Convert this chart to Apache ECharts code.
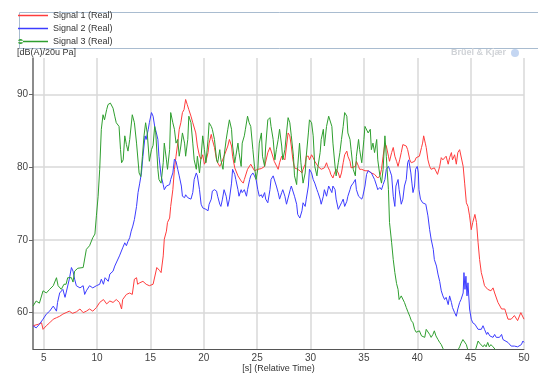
<!DOCTYPE html>
<html>
<head>
<meta charset="utf-8">
<script src="https://cdn.jsdelivr.net/npm/echarts@6/dist/echarts.min.js"></script>
<style>
  html, body { margin: 0; padding: 0; background: #fff; }
  #chart { width: 538px; height: 374px; }
</style>
</head>
<body>
<div id="chart"></div>
<script>
const seriesNames = ['Signal 1 (Real)', 'Signal 2 (Real)', 'Signal 3 (Real)']
const xTicks = [5, 10, 15, 20, 25, 30, 35, 40, 45, 50]
const yTicks = [60, 70, 80, 90]

// Signal 1 (red)
const sig1Time = [4.0, 4.5, 4.8, 4.94, 5.25, 5.56, 5.9, 6.2, 6.5, 6.8, 7.1, 7.4, 7.7, 8.06, 8.4, 8.7, 9.0, 9.3, 9.6, 9.94,
  10.25, 10.6, 10.9, 11.2, 11.5, 11.8, 12.1, 12.3, 12.4, 12.75, 13.06, 13.3, 13.5, 13.7, 13.8, 14.0, 14.3, 14.6, 14.9, 15.25,
  15.4, 15.6, 15.7, 15.85, 16.0, 16.2, 16.3, 16.5, 16.6, 16.8, 16.9, 17.1, 17.25, 17.4, 17.56, 17.7, 17.85, 18.0, 18.15, 18.3,
  18.45, 18.6, 18.8, 18.97, 19.1, 19.25, 19.4, 19.6, 19.75, 19.9, 20.06, 20.2, 20.4, 20.5, 20.7, 20.8, 21.0, 21.2, 21.3, 21.5,
  21.6, 21.9, 22.25, 22.4, 22.6, 22.7, 22.9, 23.2, 23.5, 23.7, 23.8, 24.1, 24.4, 24.75, 25.06, 25.4, 25.7, 26.0, 26.2, 26.4,
  26.6, 26.97, 27.1, 27.3, 27.6, 27.75, 27.9, 28.06, 28.2, 28.35, 28.5, 28.8, 29.0, 29.2, 29.3, 29.5, 29.6, 29.8, 29.9, 30.1,
  30.25, 30.4, 30.5, 30.7, 31.0, 31.3, 31.5, 31.6, 31.8, 31.9, 32.1, 32.2, 32.4, 32.6, 32.75, 32.9, 33.06, 33.2, 33.4, 33.5,
  33.7, 33.8, 34.2, 34.3, 34.5, 34.6, 34.8, 35.1, 35.4, 35.7, 36.0, 36.3, 36.5, 36.65, 36.8, 36.97, 37.1, 37.3, 37.4, 37.6,
  37.75, 37.9, 38.06, 38.2, 38.35, 38.5, 38.65, 38.8, 38.97, 39.1, 39.3, 39.44, 39.6, 39.75, 39.9, 40.06, 40.2, 40.4, 40.5, 40.6,
  40.75, 40.84, 41.0, 41.16, 41.3, 41.47, 41.6, 41.75, 41.9, 42.1, 42.25, 42.4, 42.56, 42.7, 42.9, 43.03, 43.2, 43.3, 43.5, 43.66,
  43.8, 43.97, 44.1, 44.3, 44.44, 44.6, 44.75, 44.9, 45.06, 45.2, 45.4, 45.55, 45.7, 45.84, 46.0, 46.16, 46.3, 46.6, 46.9, 47.1,
  47.25, 47.56, 47.9, 48.2, 48.5, 48.8, 49.1, 49.4, 49.7, 50.0]
const sig1Level = [58.2, 58.4, 58.6, 57.7, 58.2, 58.6, 59.1, 59.3, 59.5, 59.8, 60.0, 60.2, 59.9, 60.1, 60.5, 60.0, 60.2, 60.5, 60.2, 60.7,
  61.4, 61.8, 61.2, 61.6, 61.4, 61.8, 61.4, 60.5, 61.8, 62.5, 62.7, 62.5, 64.6, 64.8, 63.9, 64.1, 64.3, 63.9, 63.7, 63.9,
  63.7, 66.2, 66.4, 65.8, 65.5, 67.8, 70.1, 71.2, 72.4, 73.0, 74.6, 76.9, 79.7, 81.5, 83.3, 85.2, 86.1, 87.5, 87.9, 89.3,
  88.6, 87.9, 87.0, 86.1, 86.3, 84.7, 82.9, 81.5, 81.1, 81.7, 80.4, 80.8, 82.0, 83.3, 84.5, 83.8, 82.7, 81.0, 80.6, 80.1,
  80.4, 81.5, 82.9, 83.8, 82.9, 81.5, 79.9, 78.8, 78.1, 77.8, 78.3, 79.7, 80.4, 79.5, 79.7, 79.8, 80.1, 82.0, 82.7, 81.8,
  80.8, 79.7, 80.6, 81.5, 81.0, 82.9, 84.7, 84.3, 82.9, 81.0, 79.9, 79.7, 79.5, 79.2, 79.7, 80.4, 81.5, 81.5, 81.0, 81.7,
  81.3, 80.8, 81.0, 80.1, 79.7, 79.9, 80.6, 80.1, 79.5, 79.0, 78.5, 79.0, 79.7, 79.2, 78.5, 79.2, 80.6, 81.7, 82.2, 81.5,
  80.8, 79.9, 80.1, 80.8, 80.1, 79.7, 79.7, 79.5, 79.5, 79.2, 79.0, 78.5, 78.8, 79.7, 81.5, 83.3, 82.9, 81.5, 80.8, 82.0,
  82.7, 81.5, 80.8, 80.1, 81.0, 82.0, 83.1, 83.3, 82.9, 82.4, 81.0, 80.6, 80.4, 80.8, 81.3, 81.3, 81.5, 82.7, 83.3, 84.3,
  83.3, 82.7, 81.0, 80.1, 79.7, 79.9, 79.9, 79.7, 79.0, 80.1, 81.3, 81.0, 80.8, 81.5, 80.4, 81.3, 82.0, 81.0, 81.7, 80.4,
  82.0, 82.4, 82.2, 80.1, 77.8, 75.1, 74.6, 73.3, 71.4, 72.4, 73.5, 72.4, 69.6, 67.3, 65.5, 64.6, 63.7, 63.2, 63.0, 63.4,
  62.7, 61.4, 60.5, 60.5, 59.1, 59.1, 59.6, 58.9, 60.0, 59.1]

// Signal 2 (blue)
const sig2Time = [4.0, 4.3, 4.6, 4.94, 5.25, 5.56, 5.9, 6.2, 6.3, 6.5, 6.8, 7.0, 7.1, 7.4, 7.6, 7.75, 7.9, 8.06, 8.4, 8.7,
  8.84, 9.0, 9.3, 9.6, 9.94, 10.25, 10.4, 10.6, 10.75, 10.9, 11.05, 11.2, 11.5, 11.66, 11.8, 12.1, 12.4, 12.6, 12.75, 12.9,
  13.06, 13.2, 13.35, 13.5, 13.7, 13.84, 14.0, 14.16, 14.3, 14.5, 14.6, 14.8, 14.9, 15.1, 15.25, 15.4, 15.56, 15.7, 15.8, 16.0,
  16.2, 16.3, 16.5, 16.6, 16.8, 16.9, 17.1, 17.25, 17.4, 17.56, 17.7, 17.9, 18.0, 18.2, 18.3, 18.5, 18.6, 18.8, 18.97, 19.1,
  19.3, 19.4, 19.6, 19.75, 19.9, 20.06, 20.2, 20.4, 20.5, 20.7, 20.8, 21.0, 21.2, 21.3, 21.5, 21.6, 21.75, 21.9, 22.1, 22.25,
  22.4, 22.6, 22.7, 22.9, 23.0, 23.2, 23.3, 23.5, 23.6, 23.8, 24.0, 24.1, 24.3, 24.4, 24.6, 24.75, 24.9, 25.06, 25.2, 25.4,
  25.5, 25.7, 25.8, 26.0, 26.2, 26.3, 26.5, 26.66, 26.8, 26.97, 27.1, 27.3, 27.4, 27.6, 27.75, 27.9, 28.1, 28.2, 28.35, 28.5,
  28.7, 28.8, 29.0, 29.2, 29.3, 29.5, 29.6, 29.8, 29.9, 30.1, 30.25, 30.4, 30.6, 30.7, 30.9, 31.0, 31.2, 31.3, 31.5, 31.7,
  31.8, 32.0, 32.1, 32.3, 32.4, 32.6, 32.75, 32.9, 33.06, 33.2, 33.4, 33.5, 33.7, 33.8, 34.0, 34.2, 34.3, 34.5, 34.6, 34.8,
  34.9, 35.1, 35.25, 35.4, 35.55, 35.7, 35.85, 36.0, 36.2, 36.3, 36.5, 36.65, 36.8, 36.97, 37.1, 37.3, 37.4, 37.6, 37.75, 37.9,
  38.0, 38.2, 38.3, 38.5, 38.65, 38.8, 38.97, 39.1, 39.2, 39.4, 39.5, 39.6, 39.75, 39.84, 40.0, 40.1, 40.16, 40.3, 40.5, 40.8,
  41.0, 41.16, 41.3, 41.5, 41.6, 41.8, 41.94, 42.1, 42.25, 42.4, 42.56, 42.7, 42.9, 43.03, 43.2, 43.3, 43.5, 43.66, 43.8, 43.97,
  44.1, 44.3, 44.375, 44.47, 44.56, 44.66, 44.75, 44.9, 45.06, 45.2, 45.4, 45.55, 45.7, 45.84, 46.0, 46.16, 46.3, 46.5, 46.6, 46.8,
  46.9, 47.1, 47.25, 47.4, 47.56, 47.7, 47.9, 48.03, 48.2, 48.5, 48.8, 49.1, 49.4, 49.75, 49.9, 50.0]
const sig2Level = [58.2, 57.9, 58.4, 59.1, 59.8, 60.2, 60.9, 60.2, 61.4, 62.7, 63.2, 62.1, 62.7, 64.6, 66.2, 65.7, 64.6, 63.7, 63.4, 63.7,
  62.5, 63.0, 63.7, 63.4, 63.7, 63.9, 64.6, 63.9, 64.8, 65.0, 64.3, 65.3, 65.7, 66.4, 66.2, 67.8, 68.9, 69.6, 69.2, 69.8,
  70.3, 71.2, 71.9, 72.8, 74.6, 76.5, 77.8, 79.2, 81.5, 84.3, 83.8, 85.2, 86.1, 87.5, 87.0, 85.6, 84.7, 83.8, 81.5, 78.8,
  77.6, 76.9, 77.4, 77.2, 77.6, 78.3, 79.2, 81.1, 80.8, 79.7, 78.8, 77.4, 76.0, 75.8, 76.2, 75.8, 76.0, 75.6, 76.5, 78.3,
  79.2, 78.8, 76.9, 74.9, 74.4, 74.6, 74.2, 74.0, 74.9, 75.6, 76.7, 76.9, 76.7, 76.0, 74.9, 74.6, 75.6, 76.9, 76.0, 74.6,
  75.6, 77.8, 79.7, 79.0, 78.3, 76.9, 76.0, 76.9, 76.5, 76.9, 76.0, 76.9, 78.3, 78.8, 79.2, 78.8, 78.3, 76.9, 76.0, 76.2,
  75.8, 76.5, 75.6, 75.1, 76.9, 78.3, 78.8, 78.8, 77.4, 76.5, 75.6, 76.5, 76.9, 76.0, 74.9, 75.1, 76.9, 77.4, 77.2, 76.0,
  74.9, 73.5, 73.0, 74.0, 75.1, 74.6, 75.6, 77.4, 79.7, 79.2, 78.3, 77.8, 76.9, 76.5, 75.6, 74.9, 76.0, 76.9, 76.0, 77.4,
  77.4, 76.5, 77.4, 76.9, 75.6, 74.2, 74.0, 75.1, 75.6, 74.6, 75.3, 76.0, 76.9, 77.4, 77.8, 78.3, 76.9, 76.0, 76.2, 75.6,
  76.0, 77.4, 79.0, 79.5, 79.5, 79.2, 79.0, 78.3, 77.4, 76.9, 77.2, 76.9, 77.6, 78.3, 79.7, 80.1, 79.7, 78.8, 76.0, 74.6,
  77.4, 78.3, 76.9, 74.9, 75.6, 77.4, 78.3, 80.6, 81.0, 79.2, 77.8, 76.5, 77.4, 79.7, 80.1, 79.2, 76.9, 75.6, 75.1, 74.9,
  73.3, 71.4, 70.1, 68.7, 67.3, 66.4, 65.3, 64.3, 63.0, 62.3, 61.8, 62.1, 61.1, 62.3, 61.4, 60.7, 60.0, 59.5, 60.5, 61.4,
  61.8, 62.7, 65.5, 63.2, 65.0, 62.3, 64.1, 60.5, 59.1, 58.6, 58.4, 58.6, 57.7, 57.9, 57.7, 58.2, 57.7, 57.0, 57.3, 56.8,
  57.0, 56.6, 57.0, 56.6, 56.8, 56.6, 57.0, 56.3, 56.1, 55.9, 55.4, 55.4, 55.3, 55.6, 56.1, 55.9]

// Signal 3 (green)
const sig3Time = [4.0, 4.3, 4.6, 4.94, 5.25, 5.56, 5.9, 6.2, 6.35, 6.65, 6.9, 7.1, 7.25, 7.6, 7.75, 7.9, 8.2, 8.7, 9.0, 9.3,
  9.6, 9.8, 9.94, 10.1, 10.25, 10.4, 10.56, 10.7, 10.9, 11.03, 11.25, 11.5, 11.66, 11.8, 12.06, 12.2, 12.3, 12.45, 12.6, 12.75,
  12.9, 13.06, 13.3, 13.5, 13.7, 13.94, 14.1, 14.25, 14.4, 14.55, 14.7, 14.9, 15.1, 15.25, 15.4, 15.5, 15.7, 15.8, 16.0, 16.2,
  16.3, 16.5, 16.6, 16.8, 16.9, 17.1, 17.25, 17.4, 17.56, 17.7, 17.85, 18.0, 18.2, 18.3, 18.5, 18.6, 18.8, 18.97, 19.1, 19.3,
  19.4, 19.6, 19.75, 19.9, 20.06, 20.2, 20.4, 20.5, 20.7, 20.8, 21.0, 21.2, 21.3, 21.5, 21.6, 21.8, 21.9, 22.1, 22.25, 22.4,
  22.6, 22.7, 22.9, 23.0, 23.2, 23.3, 23.5, 23.6, 23.8, 23.9, 24.1, 24.25, 24.4, 24.6, 24.75, 24.9, 25.06, 25.2, 25.4, 25.5,
  25.7, 25.8, 26.0, 26.2, 26.3, 26.5, 26.66, 26.8, 26.97, 27.1, 27.3, 27.4, 27.6, 27.75, 27.9, 28.06, 28.2, 28.4, 28.5, 28.7,
  28.8, 28.97, 29.1, 29.3, 29.5, 29.6, 29.8, 29.9, 30.1, 30.25, 30.4, 30.6, 30.7, 30.9, 31.0, 31.2, 31.3, 31.5, 31.7, 31.8,
  32.0, 32.1, 32.3, 32.4, 32.6, 32.75, 32.9, 33.06, 33.2, 33.4, 33.5, 33.7, 33.8, 34.0, 34.2, 34.3, 34.5, 34.6, 34.8, 35.0,
  35.1, 35.25, 35.4, 35.6, 35.7, 35.85, 36.0, 36.2, 36.3, 36.5, 36.65, 36.8, 36.97, 37.1, 37.3, 37.4, 37.6, 37.75, 37.9, 38.06,
  38.2, 38.3, 38.5, 38.65, 38.8, 38.97, 39.1, 39.3, 39.44, 39.6, 39.75, 39.9, 40.06, 40.2, 40.4, 40.55, 40.7, 40.84, 41.0, 41.16,
  41.3, 41.47, 41.6, 41.75, 41.94, 42.1, 42.25, 42.4, 42.6, 43.0, 43.5, 43.8, 43.97, 44.1, 44.28, 44.44, 44.6, 44.75, 45.0, 45.3,
  45.5, 45.7, 45.84, 46.0, 46.16, 46.3, 46.45, 46.6, 46.75, 46.9, 47.1, 47.25, 47.56, 48.0, 49.0, 50.0]
const sig3Level = [60.9, 61.6, 61.3, 63.0, 62.7, 63.2, 63.7, 64.8, 63.7, 63.2, 63.9, 63.9, 64.8, 64.8, 64.2, 65.7, 66.1, 66.2, 68.7, 69.2,
  70.3, 70.8, 73.3, 76.0, 79.7, 85.2, 87.2, 86.5, 87.9, 88.6, 88.8, 88.1, 87.0, 86.1, 85.6, 82.4, 80.6, 81.0, 84.3, 83.1,
  82.2, 83.8, 87.2, 86.1, 83.3, 79.2, 78.7, 81.5, 84.3, 86.1, 84.7, 80.8, 82.4, 83.0, 85.6, 84.7, 79.7, 78.3, 77.8, 80.6,
  83.3, 81.0, 79.7, 82.4, 87.5, 86.1, 85.2, 83.3, 83.8, 81.5, 82.9, 84.7, 83.3, 81.5, 83.8, 87.0, 86.1, 83.3, 81.0, 79.7,
  81.5, 79.2, 81.5, 84.3, 82.4, 80.6, 83.8, 86.1, 85.6, 85.2, 83.8, 81.0, 80.6, 82.4, 81.0, 79.7, 81.5, 83.8, 85.2, 86.5,
  85.2, 82.9, 80.6, 81.5, 83.3, 82.0, 80.1, 83.3, 84.3, 85.2, 87.0, 86.1, 85.6, 82.4, 80.1, 78.3, 79.7, 83.3, 84.7, 81.5,
  80.1, 82.9, 86.5, 86.8, 85.6, 83.8, 81.0, 82.4, 83.8, 85.2, 82.9, 81.0, 82.4, 84.7, 86.8, 86.1, 84.3, 81.5, 78.8, 77.6,
  80.1, 83.3, 80.6, 77.8, 79.2, 81.5, 84.7, 86.5, 86.1, 84.3, 80.1, 78.8, 80.1, 82.0, 83.8, 85.2, 82.9, 85.6, 87.0, 86.8,
  85.6, 83.3, 80.1, 78.8, 80.6, 82.0, 83.8, 85.6, 87.5, 87.0, 84.7, 83.8, 82.4, 79.7, 78.8, 81.5, 83.8, 82.4, 80.6, 83.8,
  85.6, 85.6, 84.7, 85.2, 82.4, 83.3, 82.0, 83.8, 81.0, 78.8, 77.8, 79.7, 84.3, 81.5, 76.9, 72.4, 69.6, 67.3, 65.5, 64.0,
  63.2, 61.8, 62.3, 62.5, 61.4, 60.7, 60.2, 59.5, 58.9, 58.6, 57.7, 57.3, 57.3, 57.5, 56.8, 56.8, 56.6, 57.7, 57.5, 57.0,
  56.6, 57.0, 57.5, 56.8, 56.3, 55.9, 55.6, 55.1, 54.5, 54.2, 54.4, 54.8, 55.3, 55.8, 56.3, 56.4, 55.6, 54.8, 54.3, 54.6,
  55.1, 56.1, 55.8, 55.6, 55.3, 55.6, 55.3, 55.9, 55.3, 55.6, 55.3, 55.1, 54.5, 54.2, 54.0, 54.0]

const colors = ['#ff3c3c', '#3c3cff', '#2f9f2f']
const font = 'Liberation Sans'

const zip = (t, v) => t.map((x, i) => [x, v[i]])
const seriesData = [zip(sig1Time, sig1Level), zip(sig2Time, sig2Level), zip(sig3Time, sig3Level)]

const lineIcon = 'path://M0,0h30v1.5h-30z'
const dotIcon = 'path://M0,3a2.5,2.5 0 1,0 5,0a2.5,2.5 0 1,0 -5,0zM0,2.25h30v1.5h-30z'

const option = {
  animation: false,
  color: colors,
  textStyle: {fontFamily: font},
  grid: {left: 33, right: 14, top: 58, bottom: 25, outerBoundsMode: 'none', containLabel: false},
  legend: {
    orient: 'vertical',
    left: 18,
    top: 11,
    padding: [0, 0, 0, 0],
    itemWidth: 30,
    itemHeight: 10,
    itemGap: 4,
    itemStyle: {borderWidth: 0},
    textStyle: {fontSize: 9, color: '#333', fontFamily: font},
    data: [
      {name: seriesNames[0], icon: lineIcon},
      {name: seriesNames[1], icon: lineIcon},
      {name: seriesNames[2], icon: dotIcon},
    ],
  },
  graphic: [
    {
      type: 'rect',
      left: 17,
      top: 10,
      z: -1,
      shape: {width: 540, height: 36},
      style: {fill: 'none', stroke: '#a9bcd0', lineWidth: 1},
    },
    {
      type: 'text',
      left: 17,
      top: 48,
      style: {text: '[dB(A)/20u Pa]', fill: '#333', font: '9px "Liberation Sans"'},
    },
    {
      type: 'text',
      left: 451,
      top: 48,
      style: {text: 'Brüel & Kjær', fill: '#d0d3d7', font: 'bold 9px "Liberation Sans"'},
    },
    {
      type: 'circle',
      left: 511,
      top: 49,
      shape: {r: 4},
      style: {fill: '#c4d6f2'},
    },
  ],
  xAxis: {
    type: 'value',
    min: 4,
    max: 50,
    name: '[s] (Relative Time)',
    nameLocation: 'middle',
    nameGap: 15,
    nameMoveOverlap: false,
    nameTextStyle: {fontSize: 9, color: '#333'},
    axisLine: {lineStyle: {color: '#555', width: 1}},
    axisTick: {show: false, customValues: xTicks},
    axisLabel: {customValues: xTicks, fontSize: 10, color: '#444', margin: 4},
    splitLine: {show: true, lineStyle: {color: '#d8d8d8', width: 1.5}},
  },
  yAxis: {
    type: 'value',
    min: 55,
    max: 95,
    axisLine: {show: true, lineStyle: {color: '#666', width: 1.5}},
    axisTick: {show: true, length: 4, customValues: yTicks, lineStyle: {color: '#666'}},
    axisLabel: {customValues: yTicks, fontSize: 10, color: '#444', margin: 5},
    splitLine: {show: true, lineStyle: {color: '#d8d8d8', width: 1.5}},
  },
  series: seriesNames.map((name, i) => ({
    name: name,
    type: 'line',
    data: seriesData[i],
    symbol: 'none',
    clip: true,
    lineStyle: {width: 1, color: colors[i]},
  })),
}

const chart = echarts.init(document.getElementById('chart'))
chart.setOption(option)
</script>
</body>
</html>
